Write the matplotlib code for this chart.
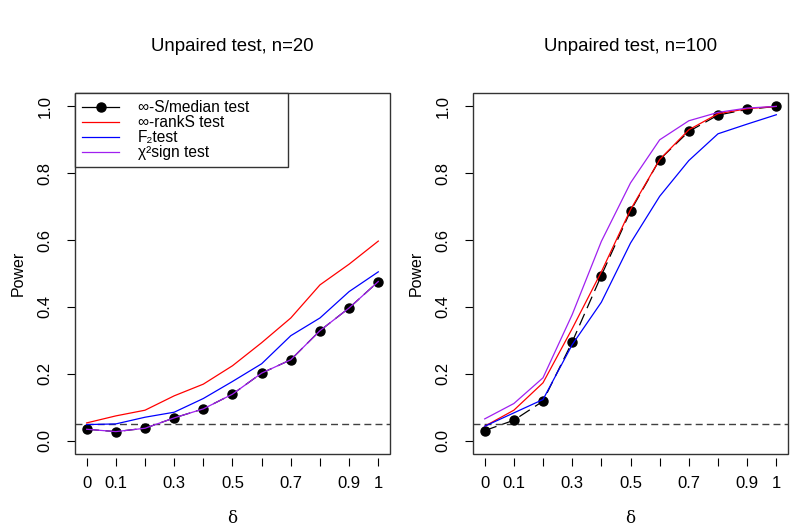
import numpy as np
import matplotlib
matplotlib.use('Agg')
import matplotlib.pyplot as plt
from matplotlib.lines import Line2D
from matplotlib.patches import Rectangle

plt.rcParams['font.family'] = ['Liberation Sans', 'DejaVu Sans']

delta = [0, 0.1, 0.2, 0.3, 0.4, 0.5, 0.6, 0.7, 0.8, 0.9, 1.0]
xtick_labels = ['0', '0.1', '', '0.3', '', '0.5', '', '0.7', '', '0.9', '1']
ytick_vals = [0.0, 0.2, 0.4, 0.6, 0.8, 1.0]
alpha_level = 0.05

# n = 20
median20 = [0.034, 0.027, 0.037, 0.068, 0.095, 0.139, 0.202, 0.242, 0.329, 0.397, 0.476]
rank20 = [0.053, 0.074, 0.091, 0.134, 0.169, 0.224, 0.293, 0.367, 0.466, 0.528, 0.597]
f2_20 = [0.048, 0.050, 0.070, 0.085, 0.126, 0.177, 0.230, 0.314, 0.367, 0.446, 0.505]
chisq20 = [0.034, 0.027, 0.037, 0.068, 0.095, 0.139, 0.202, 0.242, 0.329, 0.397, 0.476]

# n = 100
median100 = [0.030, 0.061, 0.118, 0.295, 0.494, 0.687, 0.841, 0.925, 0.974, 0.991, 1.0]
rank100 = [0.043, 0.091, 0.173, 0.335, 0.505, 0.691, 0.841, 0.930, 0.978, 0.993, 1.0]
f2_100 = [0.043, 0.083, 0.123, 0.287, 0.414, 0.591, 0.731, 0.838, 0.918, 0.947, 0.975]
chisq100 = [0.065, 0.111, 0.188, 0.377, 0.596, 0.771, 0.900, 0.957, 0.982, 0.995, 1.0]

panels = [
    ('Unpaired test, n=20', median20, rank20, f2_20, chisq20),
    ('Unpaired test, n=100', median100, rank100, f2_100, chisq100),
]

fig = plt.figure(figsize=(7.97, 5.30), dpi=100)
lefts = [0.0941, 0.5935]

for i, (title, med, rnk, f2, chi) in enumerate(panels):
    ax = fig.add_axes([lefts[i], 0.1434, 0.3952, 0.6811])
    ax.plot(delta, med, color='black', lw=0.9, dashes=(10, 5), marker='o', ms=6.5, zorder=3)
    ax.plot(delta, rnk, color='red', lw=0.9, zorder=4)
    ax.plot(delta, f2, color='blue', lw=0.9, zorder=4)
    ax.plot(delta, chi, color='#a020f0', lw=0.9, zorder=4)
    ax.axhline(alpha_level, color='#404040', lw=1.0, dashes=(5, 3), zorder=2)

    ax.set_xlim(-0.04, 1.04)
    ax.set_ylim(-0.04, 1.04)
    ax.set_xticks(delta)
    ax.set_xticklabels(xtick_labels)
    ax.set_yticks(ytick_vals)
    ax.set_yticklabels(['%.1f' % v for v in ytick_vals], rotation=90, va='center')
    ax.tick_params(axis='x', direction='out', length=6, width=0.8, pad=7, labelsize=12)
    ax.tick_params(axis='y', direction='out', length=6, width=0.8, pad=10, labelsize=12)

    for s in ax.spines.values():
        s.set_visible(False)
    ax.spines['bottom'].set_visible(True)
    ax.spines['bottom'].set_position(('outward', 3))
    ax.spines['bottom'].set_color('none')
    ax.spines['left'].set_visible(True)
    ax.spines['left'].set_color('none')
    ax.add_patch(Rectangle((0, 0), 1, 1, transform=ax.transAxes, fill=False,
                           edgecolor='#333333', lw=1.0, clip_on=False, zorder=5))

    ax.text(0.5, 1.13, title, transform=ax.transAxes, ha='center', va='center',
            fontsize=13.4)
    ax.text(-0.18, 0.5, 'Power', transform=ax.transAxes, ha='center', va='center',
            rotation=90, fontsize=11.5)
    ax.text(0.5, -0.18, '\u03b4', transform=ax.transAxes, ha='center', va='center',
            fontsize=12, family='DejaVu Serif')

    if i == 0:
        handles = [
            Line2D([], [], color='black', lw=0.9, marker='o', ms=6.5),
            Line2D([], [], color='red', lw=0.9),
            Line2D([], [], color='blue', lw=0.9),
            Line2D([], [], color='#a020f0', lw=0.9),
        ]
        labels = ['\u221e-S/median test', '\u221e-rankS test', 'F\u2082test',
                  '\u03c7\u00b2sign test']
        leg = ax.legend(handles, labels, loc='upper left',
                        bbox_to_anchor=(0, 0, 0.677, 1), mode='expand',
                        borderaxespad=0, fancybox=False, framealpha=1,
                        edgecolor='#333333', fontsize=11.2, handlelength=2.4,
                        labelspacing=0.0, borderpad=0.45, handletextpad=1.2)
        leg.get_frame().set_linewidth(1.0)
        leg.set_zorder(6)

fig.savefig('out.png', dpi=100)
